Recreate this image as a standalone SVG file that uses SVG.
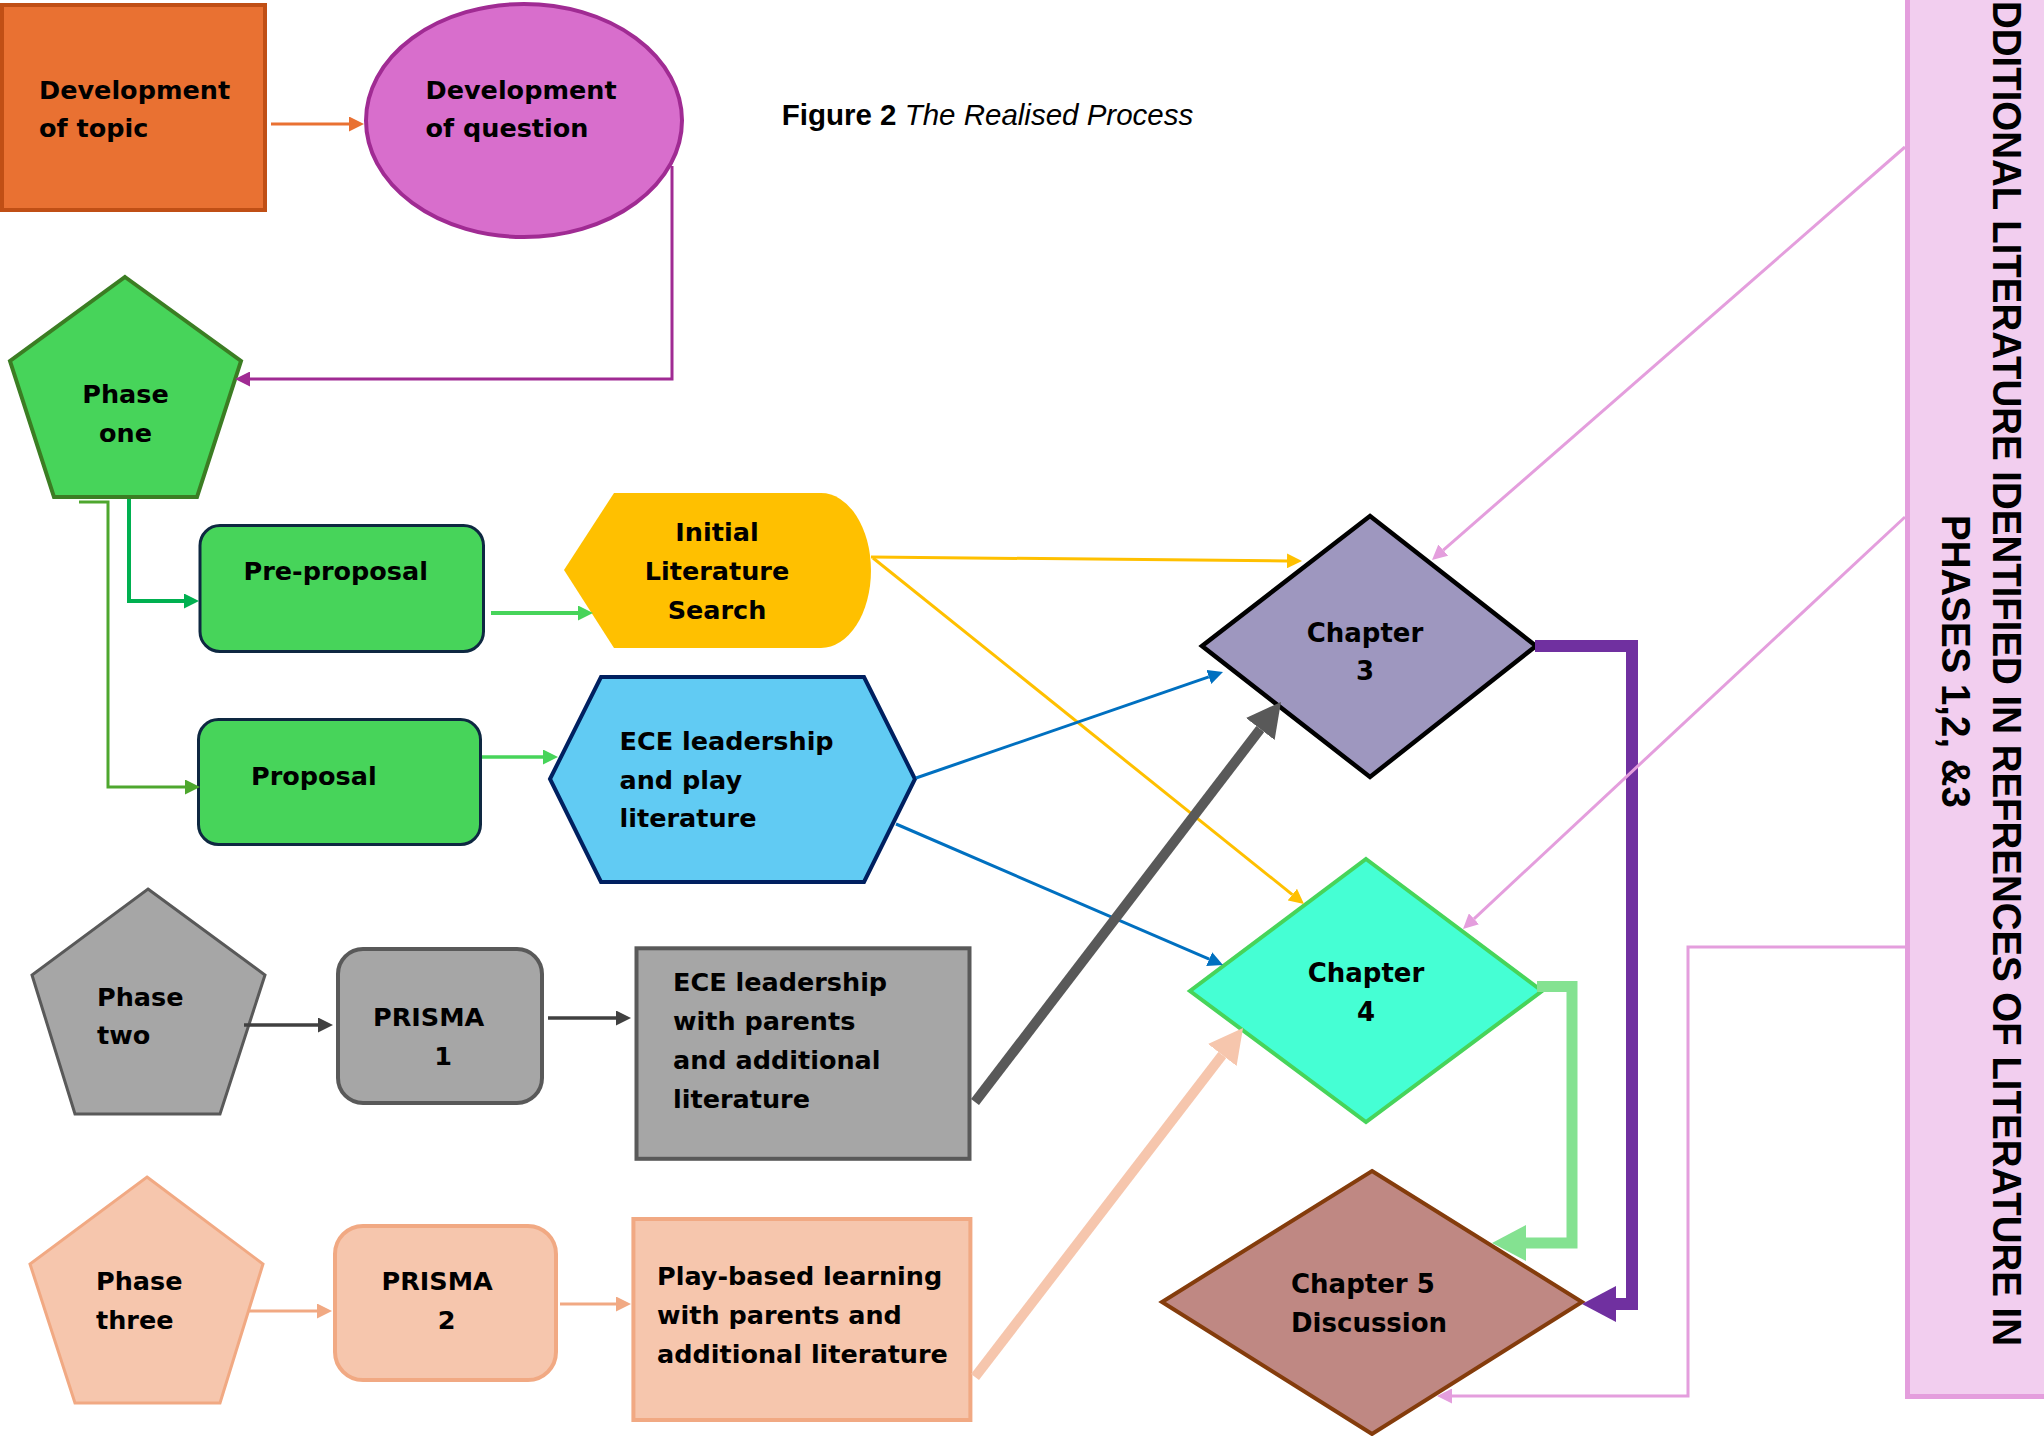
<svg xmlns="http://www.w3.org/2000/svg" width="2044" height="1436" viewBox="0 0 2044 1436">
<defs>
<style>
.t{font-family:"DejaVu Sans","Liberation Sans",sans-serif;font-weight:bold;font-size:25.5px;fill:#000}
.ch{font-family:"DejaVu Sans","Liberation Sans",sans-serif;font-weight:bold;font-size:26px;fill:#000}
.c{text-anchor:middle}
.rt{font-family:"Liberation Sans","DejaVu Sans",sans-serif;font-weight:bold;font-size:41px;fill:#000}
.title{font-family:"Liberation Sans","DejaVu Sans",sans-serif;font-size:29.5px;fill:#000}
.ln{fill:none;stroke-linejoin:miter;stroke-linecap:butt}
</style>
<marker id="a-orange" markerUnits="userSpaceOnUse" markerWidth="15" markerHeight="15" refX="0" refY="7.5" orient="auto"><path d="M0,0L15,7.5L0,15z" fill="#E97132"/></marker>
<marker id="a-purple" markerUnits="userSpaceOnUse" markerWidth="15" markerHeight="15" refX="0" refY="7.5" orient="auto"><path d="M0,0L15,7.5L0,15z" fill="#A02B93"/></marker>
<marker id="a-green" markerUnits="userSpaceOnUse" markerWidth="15" markerHeight="15" refX="0" refY="7.5" orient="auto"><path d="M0,0L15,7.5L0,15z" fill="#00B050"/></marker>
<marker id="a-green2" markerUnits="userSpaceOnUse" markerWidth="15" markerHeight="15" refX="0" refY="7.5" orient="auto"><path d="M0,0L15,7.5L0,15z" fill="#4EA72E"/></marker>
<marker id="a-lgreen" markerUnits="userSpaceOnUse" markerWidth="15" markerHeight="15" refX="0" refY="7.5" orient="auto"><path d="M0,0L15,7.5L0,15z" fill="#47D45A"/></marker>
<marker id="a-yellow" markerUnits="userSpaceOnUse" markerWidth="15" markerHeight="15" refX="0" refY="7.5" orient="auto"><path d="M0,0L15,7.5L0,15z" fill="#FFC000"/></marker>
<marker id="a-blue" markerUnits="userSpaceOnUse" markerWidth="15" markerHeight="15" refX="0" refY="7.5" orient="auto"><path d="M0,0L15,7.5L0,15z" fill="#0070C0"/></marker>
<marker id="a-pink" markerUnits="userSpaceOnUse" markerWidth="15" markerHeight="15" refX="0" refY="7.5" orient="auto"><path d="M0,0L15,7.5L0,15z" fill="#E49EDD"/></marker>
<marker id="a-dgray" markerUnits="userSpaceOnUse" markerWidth="15" markerHeight="15" refX="0" refY="7.5" orient="auto"><path d="M0,0L15,7.5L0,15z" fill="#404040"/></marker>
<marker id="a-peach" markerUnits="userSpaceOnUse" markerWidth="15" markerHeight="15" refX="0" refY="7.5" orient="auto"><path d="M0,0L15,7.5L0,15z" fill="#F1A983"/></marker>
<marker id="A-gray" markerUnits="userSpaceOnUse" markerWidth="34" markerHeight="36" refX="0" refY="18" orient="auto"><path d="M0,0L34,18L0,36z" fill="#595959"/></marker>
<marker id="A-peach" markerUnits="userSpaceOnUse" markerWidth="34" markerHeight="36" refX="0" refY="18" orient="auto"><path d="M0,0L34,18L0,36z" fill="#F6C6AD"/></marker>
<marker id="A-purple" markerUnits="userSpaceOnUse" markerWidth="34" markerHeight="36" refX="0" refY="18" orient="auto"><path d="M0,0L34,18L0,36z" fill="#7030A0"/></marker>
<marker id="A-lgreen" markerUnits="userSpaceOnUse" markerWidth="34" markerHeight="36" refX="0" refY="18" orient="auto"><path d="M0,0L34,18L0,36z" fill="#84E291"/></marker>
</defs>
<rect width="2044" height="1436" fill="#fff"/>

<g id="title">
<text class="title" x="781.7" y="125"><tspan font-weight="bold">Figure 2</tspan> <tspan font-style="italic">The Realised Process</tspan></text>
</g>

<g id="side-box">
<rect x="1907.5" y="-10" width="200" height="1406.5" fill="#F2CEEF" stroke="#E49EDD" stroke-width="5"/>
<text class="rt" transform="translate(1993,0) rotate(90)" x="1" y="0" textLength="1345" lengthAdjust="spacingAndGlyphs">DDITIONAL LITERATURE IDENTIFIED IN REFRENCES OF LITERATURE IN</text>
<text class="rt" transform="translate(1942,0) rotate(90)" x="515" y="0" textLength="293" lengthAdjust="spacingAndGlyphs">PHASES 1,2, &amp;3</text>
</g>

<g id="dev-topic">
<rect x="2" y="5" width="263" height="205" fill="#E97132" stroke="#C04F15" stroke-width="4"/>
<text class="t" x="39" y="99">Development</text>
<text class="t" x="39" y="137">of topic</text>
</g>

<g id="dev-question">
<ellipse cx="524" cy="120.5" rx="158" ry="116.5" fill="#D86ECC" stroke="#A02B93" stroke-width="4"/>
<text class="t" x="425.5" y="99">Development</text>
<text class="t" x="425.5" y="137">of question</text>
</g>

<g id="phase-one">
<polygon points="125,277 241,361 197,497 54,497 10,361" fill="#47D45A" stroke="#3B7D23" stroke-width="4"/>
<text class="t c" x="125.5" y="403">Phase</text>
<text class="t c" x="125.5" y="442">one</text>
</g>

<g id="pre-proposal">
<rect x="200" y="525.5" width="283.5" height="126" rx="20" fill="#47D45A" stroke="#0E2841" stroke-width="3"/>
<text class="t" x="243.5" y="580">Pre-proposal</text>
</g>

<g id="proposal">
<rect x="198.5" y="719.5" width="282" height="125" rx="20" fill="#47D45A" stroke="#0E2841" stroke-width="3"/>
<text class="t" x="251" y="785">Proposal</text>
</g>

<g id="initial-lit">
<path d="M564,570 L614,493 H821 A50,77.5 0 0 1 821,648 H614 Z" fill="#FFC000"/>
<text class="t c" x="717" y="541">Initial</text>
<text class="t c" x="717" y="580">Literature</text>
<text class="t c" x="717" y="618.5">Search</text>
</g>

<g id="ece-play">
<polygon points="550,779 601,677 864,677 915,779 864,882 601,882" fill="#61CBF3" stroke="#002060" stroke-width="4"/>
<text class="t" x="619.5" y="749.5">ECE leadership</text>
<text class="t" x="619.5" y="788.5">and play</text>
<text class="t" x="619.5" y="827">literature</text>
</g>

<g id="phase-two">
<polygon points="148,889 265,975 220,1114 75,1114 32,975" fill="#A6A6A6" stroke="#595959" stroke-width="3"/>
<text class="t" x="97" y="1006">Phase</text>
<text class="t" x="97" y="1044">two</text>
</g>

<g id="prisma-1">
<rect x="338" y="949" width="204" height="154" rx="25" fill="#A6A6A6" stroke="#595959" stroke-width="4"/>
<text class="t" x="373" y="1025.5">PRISMA</text>
<text class="t c" x="443" y="1064.5">1</text>
</g>

<g id="ece-parents">
<rect x="636.5" y="948.3" width="333" height="210.5" fill="#A6A6A6" stroke="#595959" stroke-width="4"/>
<text class="t" x="673" y="991">ECE leadership</text>
<text class="t" x="673" y="1029.5">with parents</text>
<text class="t" x="673" y="1068.5">and additional</text>
<text class="t" x="673" y="1107.5">literature</text>
</g>

<g id="phase-three">
<polygon points="147,1177 263,1264 220,1403 75,1403 30,1264" fill="#F6C6AD" stroke="#F1A983" stroke-width="3"/>
<text class="t" x="96" y="1290">Phase</text>
<text class="t" x="96" y="1329">three</text>
</g>

<g id="prisma-2">
<rect x="335" y="1226" width="221" height="154" rx="28" fill="#F6C6AD" stroke="#F1A983" stroke-width="4"/>
<text class="t" x="381.5" y="1290">PRISMA</text>
<text class="t c" x="446.5" y="1329">2</text>
</g>

<g id="play-based">
<rect x="633.4" y="1219" width="337" height="201" fill="#F6C6AD" stroke="#F1A983" stroke-width="4"/>
<text class="t" x="657" y="1284.5">Play-based learning</text>
<text class="t" x="657" y="1323.5">with parents and</text>
<text class="t" x="657" y="1362.5">additional literature</text>
</g>

<g id="chapter-3">
<polygon points="1370,516 1536,646 1370,777 1202,646" fill="#9E97BF" stroke="#000" stroke-width="4.5"/>
<text class="ch c" x="1365" y="642">Chapter</text>
<text class="ch c" x="1365" y="680">3</text>
</g>

<g id="chapter-4">
<polygon points="1366,859 1542,991 1366,1122 1190,991" fill="#45FFD4" stroke="#47D45A" stroke-width="4"/>
<text class="ch c" x="1366" y="981.5">Chapter</text>
<text class="ch c" x="1366" y="1021">4</text>
</g>

<g id="chapter-5">
<polygon points="1372,1171 1582,1302 1372,1434 1162,1302" fill="#BF8883" stroke="#843C0C" stroke-width="4"/>
<text class="ch" x="1291" y="1293">Chapter 5</text>
<text class="ch" x="1291" y="1332">Discussion</text>
</g>

<g id="connectors">
<path class="ln" d="M271,124 H349" stroke="#E97132" stroke-width="3" marker-end="url(#a-orange)"/>
<path class="ln" d="M672,166 V379 H250" stroke="#A02B93" stroke-width="3" marker-end="url(#a-purple)"/>
<path class="ln" d="M129,499 V601 H184" stroke="#00B050" stroke-width="4" marker-end="url(#a-green)"/>
<path class="ln" d="M79,502 H108 V787 H185" stroke="#4EA72E" stroke-width="3" marker-end="url(#a-green2)"/>
<path class="ln" d="M491,613 H578" stroke="#47D45A" stroke-width="4" marker-end="url(#a-lgreen)"/>
<path class="ln" d="M482,757 H543" stroke="#47D45A" stroke-width="3.5" marker-end="url(#a-lgreen)"/>
<path class="ln" d="M871,557 L1287,560.9" stroke="#FFC000" stroke-width="3" marker-end="url(#a-yellow)"/>
<path class="ln" d="M873,558 L1292.3,894.6" stroke="#FFC000" stroke-width="3" marker-end="url(#a-yellow)"/>
<path class="ln" d="M916,778 L1208.8,676.9" stroke="#0070C0" stroke-width="3" marker-end="url(#a-blue)"/>
<path class="ln" d="M896,824 L1209.2,959.1" stroke="#0070C0" stroke-width="3" marker-end="url(#a-blue)"/>
<path class="ln" d="M244,1025 H318" stroke="#404040" stroke-width="3.5" marker-end="url(#a-dgray)"/>
<path class="ln" d="M548,1018 H616" stroke="#404040" stroke-width="3.5" marker-end="url(#a-dgray)"/>
<path class="ln" d="M249,1311 H317" stroke="#F1A983" stroke-width="3" marker-end="url(#a-peach)"/>
<path class="ln" d="M560,1304 H616" stroke="#F1A983" stroke-width="3" marker-end="url(#a-peach)"/>
<path class="ln" d="M975,1102 L1260.3,729" stroke="#595959" stroke-width="10" marker-end="url(#A-gray)"/>
<path class="ln" d="M975,1377 L1222.3,1055" stroke="#F6C6AD" stroke-width="10" marker-end="url(#A-peach)"/>
<path class="ln" d="M1535,646 H1632 V1304 H1616" stroke="#7030A0" stroke-width="12" marker-end="url(#A-purple)"/>
<path class="ln" d="M1537,986.5 H1572 V1243 H1526" stroke="#84E291" stroke-width="11" marker-end="url(#A-lgreen)"/>
<path class="ln" d="M1905,147 L1443.3,550.1" stroke="#E49EDD" stroke-width="3" marker-end="url(#a-pink)"/>
<path class="ln" d="M1905,517 L1474,918.8" stroke="#E49EDD" stroke-width="3" marker-end="url(#a-pink)"/>
<path class="ln" d="M1905,947 H1688 V1396 H1452" stroke="#E49EDD" stroke-width="3" marker-end="url(#a-pink)"/>
</g>
</svg>
